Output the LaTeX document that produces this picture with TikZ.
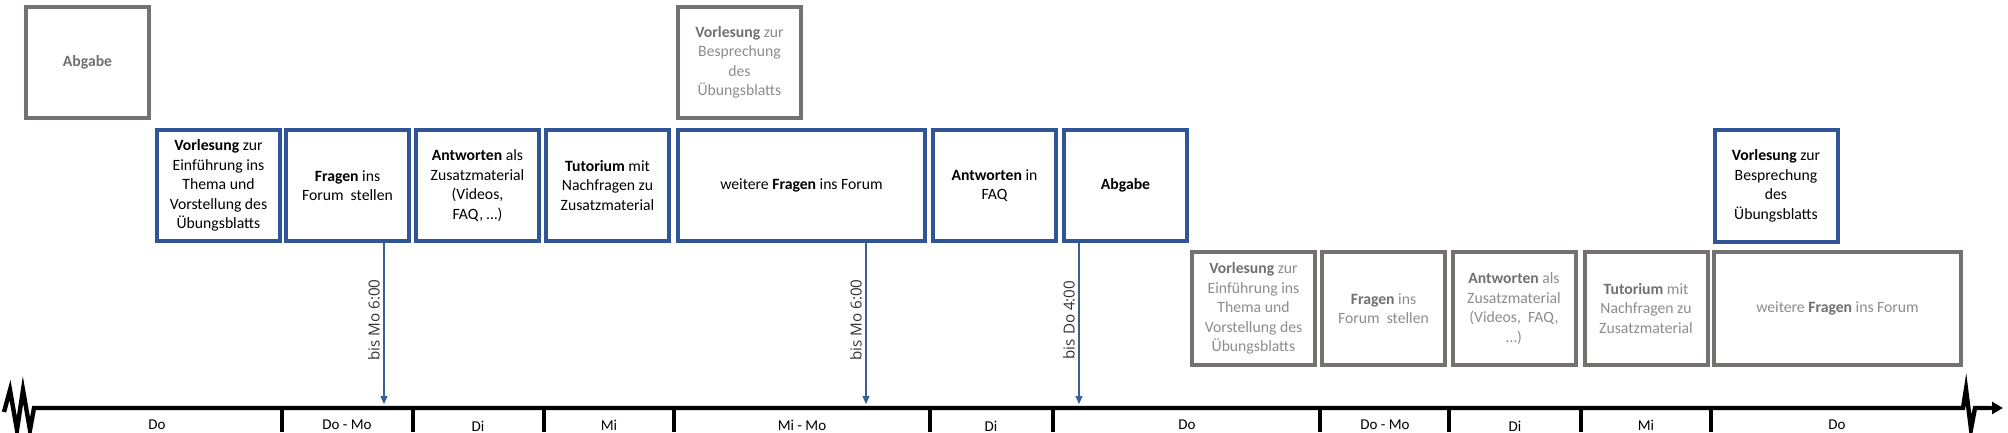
\documentclass[tikz,border=0pt]{standalone}
\usepackage{fontspec}
\setmainfont{Carlito}
\newfontfamily\osans{Open Sans}
\usetikzlibrary{arrows.meta}
\definecolor{bblue}{HTML}{2F5597}
\definecolor{aublue}{HTML}{3A5F94}
\definecolor{gframe}{HTML}{767171}
\definecolor{gtxt}{HTML}{8C8C8C}
\definecolor{gbold}{HTML}{707070}
\newcommand{\gb}[1]{{\color{gbold}\textbf{#1}}}
\tikzset{
  card/.style={draw, line width=2pt, inner sep=0pt, align=center,
    minimum width=61.5pt, minimum height=55.5pt,
    font=\fontsize{7.85}{9.75}\selectfont},
  bluecard/.style={card, draw=bblue, text=black},
  greycard/.style={card, draw=gframe, text=gtxt},
  widecard/.style={minimum width=123.5pt},
  tallcard/.style={minimum height=56.5pt},
  axisline/.style={line width=2.2pt, line join=miter, black},
  daytick/.style={line width=2pt, black},
  daylabel/.style={font=\fontsize{7.5}{9}\selectfont, inner sep=0pt},
  deadline/.style={aublue, line width=0.6pt, -{Triangle[length=4pt,width=3.5pt]}},
  dlabel/.style={rotate=90, font=\osans\fontsize{7.6}{9}\selectfont, inner sep=0pt, text=black!80}
}
\begin{document}
\begin{tikzpicture}[x=0.5pt,y=-0.5pt]
\useasboundingbox (0,0) rectangle (2008,433);
% top grey cards
\node[greycard] (gAb) at (87.5,62.5) {\gb{Abgabe}};
\node[greycard] (gBe) at (739.5,62.5) {\gb{Vorlesung} zur\\Besprechung\\des\\Übungsblatts};
% blue row
\node[bluecard] (bV1) at (218.5,185.5) {\textbf{Vorlesung} zur\\Einführung ins\\Thema und\\Vorstellung des\\Übungsblatts};
\node[bluecard] (bF1) at (347.5,185.5) {\textbf{Fragen} ins\\Forum\ \ stellen};
\node[bluecard] (bA1) at (477.5,185.5) {\textbf{Antworten} als\\Zusatzmaterial\\(Videos,\\FAQ, …)};
\node[bluecard] (bT1) at (607.5,185.5) {\textbf{Tutorium} mit\\Nachfragen zu\\Zusatzmaterial};
\node[bluecard,widecard] (bWF) at (801.5,185.5) {weitere \textbf{Fragen} ins Forum};
\node[bluecard] (bAF) at (994.5,185.5) {\textbf{Antworten} in\\FAQ};
\node[bluecard] (bAB) at (1125.5,185.5) {\textbf{Abgabe}};
\node[bluecard] (bBe) at (1776,186) {\textbf{Vorlesung} zur\\Besprechung\\des\\Übungsblatts};
% grey row
\node[greycard,tallcard] (gV2) at (1253.5,308.5) {\gb{Vorlesung} zur\\Einführung ins\\Thema und\\Vorstellung des\\Übungsblatts};
\node[greycard,tallcard] (gF2) at (1383.5,308.5) {\gb{Fragen} ins\\Forum\ \ stellen};
\node[greycard,tallcard] (gA2) at (1514,308.5) {\gb{Antworten} als\\Zusatzmaterial\\(Videos,\ \ FAQ,\\…)};
\node[greycard,tallcard] (gT2) at (1646,308.5) {\gb{Tutorium} mit\\Nachfragen zu\\Zusatzmaterial};
\node[greycard,tallcard,widecard] (gWF) at (1837.5,308.5) {weitere \gb{Fragen} ins Forum};
% axis
\coordinate (axL) at (34,408);
\coordinate (axR) at (1963,408);
\coordinate (axE) at (2003,408);
\draw[axisline] (4,412) -- (10,390) -- (17,430) -- (23,390) -- (30,430) -- (axL) -- (axR)
  -- (1966,389) -- (1971,429) -- (1975,408) -- (1990,408);
\draw[axisline,-{Triangle[length=5.5pt,width=6pt]}] (1985,408) -- (axE);
% ticks
\foreach \n/\x in {1/282,2/413,3/544,4/674,5/930,6/1053,7/1320,8/1449,9/1581,10/1711}{
  \coordinate (t\n) at (\x,408);
  \draw[daytick] (t\n) -- ++(0,24);
}
% day labels
\node[daylabel] (d1) at (157,425) {Do};
\node[daylabel] (d2) at (347,425) {Do - Mo};
\node[daylabel] (d3) at (478,426) {Di};
\node[daylabel] (d4) at (609,425) {Mi};
\node[daylabel] (d5) at (802,425) {Mi - Mo};
\node[daylabel] (d6) at (991,426) {Di};
\node[daylabel] (d7) at (1187,425) {Do};
\node[daylabel] (d8) at (1385,425) {Do - Mo};
\node[daylabel] (d9) at (1515,426) {Di};
\node[daylabel] (d10) at (1646,425) {Mi};
\node[daylabel] (d11) at (1837,425) {Do};
% deadlines
\coordinate (e1) at (384,404);
\coordinate (e2) at (866,404);
\coordinate (e3) at (1079,404);
\draw[deadline] (bF1.south -| e1) -- (e1);
\draw[deadline] (bWF.south -| e2) -- (e2);
\draw[deadline] (bAB.south -| e3) -- (e3);
\node[dlabel] (l1) at (374,320) {bis Mo 6:00};
\node[dlabel] (l2) at (856,320) {bis Mo 6:00};
\node[dlabel] (l3) at (1069,320) {bis Do 4:00};
\end{tikzpicture}
\end{document}
